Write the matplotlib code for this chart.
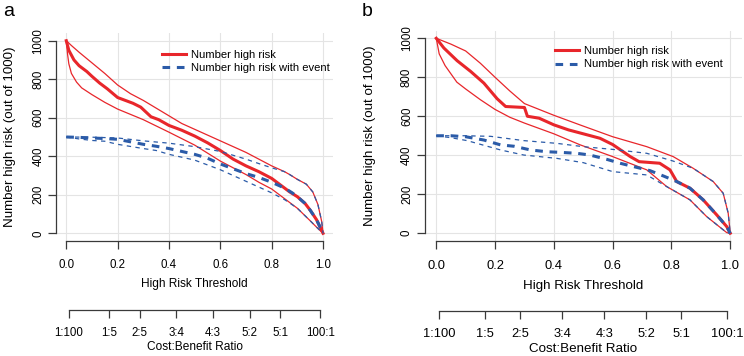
import matplotlib
matplotlib.use('Agg')
import matplotlib.pyplot as plt
from matplotlib.lines import Line2D

plt.rcParams['font.family'] = ['Liberation Sans', 'DejaVu Sans']

# ---- panel a ----
a_x_hr = [0, .01, .03, .05, .08, .10, .13, .16, .20, .23, .26, .29, .31, .33, .36, .40, .45, .50,
          .55, .60, .65, .70, .75, .80, .84, .87, .90, .93, .95, .975, 1.0]
a_hr = [1000, 950, 900, 870, 840, 815, 780, 750, 705, 690, 675, 655, 630, 605, 590, 560, 535, 505,
        470, 430, 385, 350, 320, 285, 245, 215, 190, 155, 120, 70, 0]
a_x_hr_hi = [0, .02, .05, .10, .15, .20, .25, .30, .35, .40, .45, .50, .55, .60, .65, .70, .75, .80,
             .85, .87, .90, .935, .96, .98, .995, 1.0]
a_hr_hi = [1000, 975, 940, 885, 830, 770, 725, 690, 650, 610, 570, 540, 510, 480, 450, 420, 385, 350,
           320, 305, 280, 255, 215, 150, 60, 0]
a_x_hr_lo = [0, .005, .01, .02, .04, .06, .10, .15, .20, .30, .40, .50, .60, .70, .75, .80, .87, .90,
             .95, .98, 1.0]
a_hr_lo = [1000, 930, 880, 830, 785, 755, 720, 680, 645, 590, 525, 458, 375, 305, 265, 230, 160, 130,
           65, 25, 0]
a_x_ev = [0, .05, .10, .15, .20, .25, .30, .35, .40, .45, .50, .55, .60, .65, .70, .75, .80, .85,
          .88, .90, .93, .95, .975, 1.0]
a_ev = [500, 498, 495, 492, 488, 475, 462, 452, 440, 425, 410, 390, 360, 335, 310, 290, 265, 235,
        210, 190, 155, 120, 70, 0]
a_x_ev_hi = [0, .10, .20, .30, .40, .50, .60, .65, .70, .75, .80, .85, .87, .90, .935, .96, .98, .995, 1.0]
a_ev_hi = [500, 499, 495, 480, 468, 450, 425, 405, 385, 362, 340, 320, 305, 280, 255, 215, 150, 60, 0]
a_x_ev_lo = [0, .05, .10, .15, .20, .30, .35, .40, .50, .60, .70, .75, .80, .85, .90, .95, .98, 1.0]
a_ev_lo = [500, 490, 482, 478, 462, 440, 430, 410, 380, 330, 270, 240, 210, 175, 130, 65, 25, 0]

# ---- panel b ----
b_x_hr = [0, .026, .071, .117, .162, .207, .236, .30, .31, .35, .40, .45, .50, .557, .60, .66, .69,
          .76, .795, .818, .863, .908, .954, .988, 1.0]
b_hr = [1000, 950, 885, 830, 770, 690, 650, 645, 600, 590, 556, 530, 510, 487, 455, 393, 367,
        359, 325, 265, 231, 171, 94, 34, 0]
b_x_hr_hi = [0, .05, .10, .15, .20, .25, .30, .40, .49, .60, .716, .806, .874, .942, .976, .993, 1.0]
b_hr_hi = [1000, 970, 935, 872, 800, 730, 665, 605, 555, 495, 444, 393, 333, 265, 205, 103, 0]
b_x_hr_lo = [0, .01, .03, .07, .10, .15, .20, .25, .30, .40, .49, .60, .716, .784, .863, .92, .988, 1.0]
b_hr_lo = [1000, 920, 860, 775, 740, 685, 635, 595, 565, 510, 453, 393, 325, 239, 171, 85, 3, 0]
b_x_ev = [0, .05, .10, .162, .219, .265, .321, .376, .42, .478, .523, .58, .625, .727, .772, .818,
          .863, .908, .954, .988, 1.0]
b_ev = [500, 500, 495, 478, 453, 446, 427, 418, 415, 410, 401, 379, 359, 321, 294, 265,
        231, 171, 94, 34, 0]
b_x_ev_hi = [0, .10, .185, .298, .41, .50, .60, .716, .806, .874, .942, .976, .993, 1.0]
b_ev_hi = [500, 500, 497, 475, 461, 444, 430, 410, 370, 333, 265, 205, 103, 0]
b_x_ev_lo = [0, .05, .105, .219, .298, .41, .50, .60, .716, .784, .863, .92, .988, 1.0]
b_ev_lo = [500, 490, 475, 427, 401, 384, 362, 316, 299, 239, 171, 85, 3, 0]

xticks = [0.0, 0.2, 0.4, 0.6, 0.8, 1.0]
yticks = [0, 200, 400, 600, 800, 1000]
cb_labels = ['1:100', '1:5', '2:5', '3:4', '4:3', '5:2', '5:1', '100:1']

RED = '#e8262b'
BLUE = '#2b5ba8'
AXC = '#3a3a3a'

fig = plt.figure(figsize=(7.44, 3.56), dpi=100)
W, H = 744.0, 356.0


def cb_pos(lab):
    c, b = lab.split(':')
    return float(c) / (float(c) + float(b))


def panel(box, cbox, data, fs_tick, fs_lab, xpad, ylab_x, leg_anchor):
    l, t, r, b = box
    xmid = (l + 0.54 / 1.08 * (r - l)) / W
    ax = fig.add_axes([l / W, 1 - b / H, (r - l) / W, (b - t) / H])
    (xh, yh), (xhh, yhh), (xhl, yhl), (xe, ye), (xeh, yeh), (xel, yel) = data
    ax.plot(xhh, yhh, color=RED, lw=0.9)
    ax.plot(xhl, yhl, color=RED, lw=0.9)
    ax.plot(xh, yh, color=RED, lw=2.2)
    ax.plot(xeh, yeh, color=BLUE, lw=0.9, ls=(0, (3.5, 3.5)))
    ax.plot(xel, yel, color=BLUE, lw=0.9, ls=(0, (3.5, 3.5)))
    ax.plot(xe, ye, color=BLUE, lw=2.2, ls=(0, (2.5, 2.2)))
    ax.set_xlim(-0.04, 1.04)
    ax.set_ylim(-40, 1040)
    ax.set_xticks(xticks)
    ax.set_yticks(yticks)
    ax.set_xticklabels(['%.1f' % v for v in xticks])
    ax.grid(True, color='#e4e4e4', lw=0.8)
    ax.set_axisbelow(True)
    for s in ['top', 'right']:
        ax.spines[s].set_visible(False)
    ax.spines['bottom'].set_bounds(0, 1)
    ax.spines['left'].set_bounds(0, 1000)
    for s in ['bottom', 'left']:
        ax.spines[s].set_color(AXC)
        ax.spines[s].set_linewidth(0.9)
    ax.tick_params(axis='x', length=5.8, width=0.9, color=AXC, labelsize=fs_tick, pad=xpad)
    ax.tick_params(axis='y', length=5.8, width=0.9, color=AXC, labelsize=8.3, pad=2.5,
                   labelrotation=90)
    for lab in ax.get_yticklabels():
        lab.set_va('center')
    ax.set_xlabel('High Risk Threshold', fontsize=fs_lab)
    ax.xaxis.label.set_va('center')
    ax.xaxis.set_label_coords(xmid, 1 - cbox[2] / H, transform=fig.transFigure)
    ax.set_ylabel('Number high risk (out of 1000)', fontsize=9.6)
    ax.yaxis.label.set_va('center')
    ax.yaxis.set_label_coords(ylab_x / W, 1 - (t + b) / 2 / H, transform=fig.transFigure)

    handles = [Line2D([], [], color=RED, lw=2.2),
               Line2D([], [], color=BLUE, lw=2.2, ls=(0, (2.5, 2.2)))]
    ax.legend(handles, ['Number high risk', 'Number high risk with event'], frameon=False,
              loc='upper left', bbox_to_anchor=leg_anchor, fontsize=8.1, handlelength=2.1,
              handletextpad=0.5, labelspacing=0.3, borderpad=0, borderaxespad=0)

    # cost:benefit axis
    ax2 = fig.add_axes([l / W, 1 - cbox[0] / H, (r - l) / W, 0.001])
    ax2.set_xlim(-0.04, 1.04)
    ax2.set_yticks([])
    for s in ['top', 'right', 'left']:
        ax2.spines[s].set_visible(False)
    ax2.patch.set_visible(False)
    pos = [cb_pos(c) for c in cb_labels]
    ax2.spines['bottom'].set_bounds(pos[0], pos[-1])
    ax2.spines['bottom'].set_color(AXC)
    ax2.spines['bottom'].set_linewidth(0.9)
    ax2.set_xticks(pos)
    ax2.set_xticklabels(cb_labels)
    ax2.tick_params(axis='x', length=5.8, width=0.9, color=AXC, labelsize=fs_tick, pad=6.5)
    ax2.set_xlabel('Cost:Benefit Ratio', fontsize=fs_lab)
    ax2.xaxis.label.set_va('center')
    ax2.xaxis.set_label_coords(xmid, 1 - cbox[1] / H, transform=fig.transFigure)
    return ax


data_a = [(a_x_hr, a_hr), (a_x_hr_hi, a_hr_hi), (a_x_hr_lo, a_hr_lo),
          (a_x_ev, a_ev), (a_x_ev_hi, a_ev_hi), (a_x_ev_lo, a_ev_lo)]
data_b = [(b_x_hr, b_hr), (b_x_hr_hi, b_hr_hi), (b_x_hr_lo, b_hr_lo),
          (b_x_ev, b_ev), (b_x_ev_hi, b_ev_hi), (b_x_ev_lo, b_ev_lo)]

panel((56, 33, 333.3, 241), (310, 347, 284), data_a, 8.3, 8.6, 7.5, 10, (0.383, 0.918))
panel((424.5, 30.5, 742, 241), (311, 349, 286), data_b, 9.3, 9.6, 8.2, 370, (0.411, 0.926))

fig.text(3 / W, 1 - 12 / H, 'a', fontsize=14, va='center', ha='left')
fig.text(362 / W, 1 - 11 / H, 'b', fontsize=14, va='center', ha='left')

fig.savefig('out.png', dpi=100)
